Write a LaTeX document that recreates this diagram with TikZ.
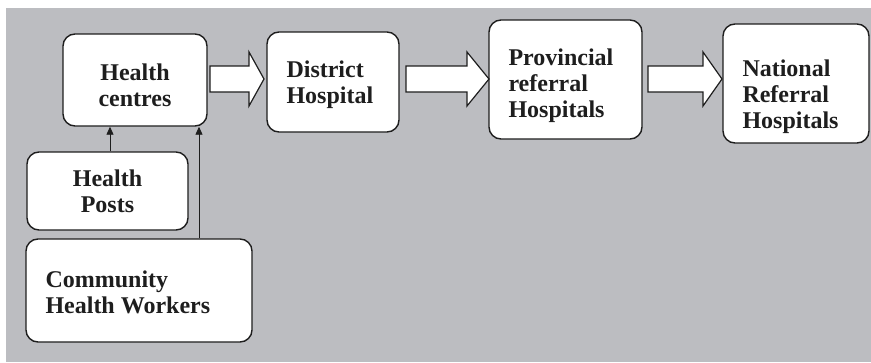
\documentclass[tikz,border=0pt]{standalone}
\usepackage{fontspec}
\setmainfont{Liberation Serif}
\usetikzlibrary{arrows.meta,calc}
\definecolor{bggray}{RGB}{188,189,193}
\definecolor{ink}{RGB}{30,30,30}
\begin{document}
\begin{tikzpicture}[x=1pt,y=-1pt,
  box/.style={draw=ink, fill=white, line width=1.4pt, rounded corners=12pt, inner sep=0pt},
  txt/.style={font=\fontsize{24}{26}\selectfont\bfseries, text=ink, inner sep=0pt},
  ltxt/.style={txt, align=left, anchor=west},
  ctxt/.style={txt, align=center},
  barrow/.style={draw=ink, fill=white, line width=1.2pt, line join=miter},
  link/.style={draw=ink, line width=0.9pt, -{Triangle[length=8pt,width=7pt]}}]
\useasboundingbox (0,0) rectangle (871,362);
\fill[bggray] (6,8) rectangle (871,362);

\node[box, minimum width=144pt, minimum height=92pt] (hc) at (135,80) {};
\node[ctxt] (hct) at ([yshift=-5pt]hc.center) {Health\\centres};
\node[box, minimum width=132pt, minimum height=100pt] (dh) at (333,82) {};
\node[ltxt] (dht) at ([xshift=20pt,yshift=-3pt]dh.west) {District\\Hospital};
\node[box, minimum width=153pt, minimum height=119pt] (pr) at (565.5,79.5) {};
\node[ltxt] (prt) at ([xshift=20pt,yshift=-6pt]pr.west) {Provincial\\referral\\Hospitals};
\node[box, minimum width=146pt, minimum height=119pt] (nr) at (796,83.5) {};
\node[ltxt] (nrt) at ([xshift=20pt,yshift=-13pt]nr.west) {National\\Referral\\Hospitals};
\node[box, minimum width=161pt, minimum height=78pt] (hp) at (107.5,191) {};
\node[ctxt] (hpt) at (hp.center) {Health\\Posts};
\node[box, minimum width=226pt, minimum height=103pt] (chw) at (139,290.5) {};
\node[ltxt] (chwt) at ([xshift=20pt,yshift=-2pt]chw.west) {Community\\Health Workers};

\draw[barrow] (210,66) -- (249,66) -- (249,52) -- (264,79) -- (249,106) -- (249,92) -- (210,92) -- cycle;
\draw[barrow] (406,66) -- (467,66) -- (467,52) -- (489,79) -- (467,106) -- (467,92) -- (406,92) -- cycle;
\draw[barrow] (648,66) -- (703,66) -- (703,52) -- (722,79) -- (703,106) -- (703,92) -- (648,92) -- cycle;

\draw[link] ([xshift=2.5pt]hp.north) -- ([xshift=2.5pt]hp.north |- hc.south);
\draw[link] ([xshift=60pt]chw.north) -- ([xshift=60pt]chw.north |- hc.south);
\end{tikzpicture}
\end{document}
